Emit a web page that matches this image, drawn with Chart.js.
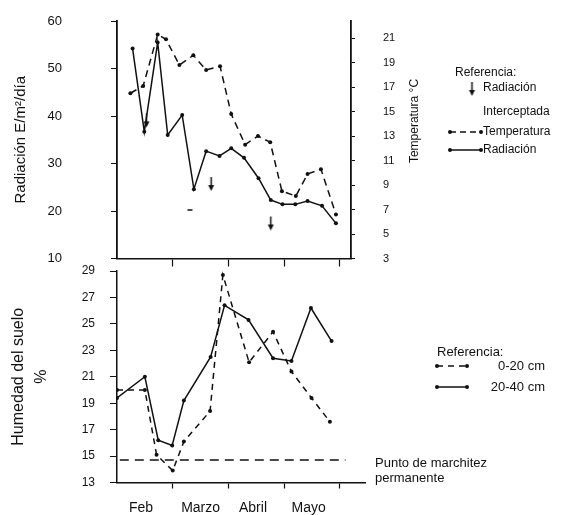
<!DOCTYPE html>
<html>
<head>
<meta charset="utf-8">
<script src="https://cdn.jsdelivr.net/npm/chart.js@4.4.1/dist/chart.umd.min.js"></script>
<style>
  body { margin: 0; background: #fff; }
  #wrap { position: relative; width: 564px; height: 515px; }
  canvas { position: absolute; left: 0; }
</style>
</head>
<body>
<div id="wrap">
  <canvas id="chartTop" width="564" height="270" style="top:0px"></canvas>
  <canvas id="chartBottom" width="564" height="253" style="top:262px"></canvas>
</div>
<script>
// x values are months counted from 1 Feb (1 = 1 Mar, 2 = 1 Apr ...)
const radDates = [0.28, 0.49, 0.73, 0.91, 1.17, 1.38, 1.60, 1.84, 2.05, 2.28, 2.54, 2.76, 2.97, 3.20, 3.42, 3.68, 3.93];
const radiacion = [54.2, 36.7, 55.5, 36.0, 40.2, 24.6, 32.6, 31.6, 33.2, 31.2, 26.9, 22.3, 21.4, 21.4, 22.1, 21.1, 17.4];
const tempDates = [0.24, 0.47, 0.73, 0.88, 1.12, 1.37, 1.60, 1.85, 2.05, 2.30, 2.53, 2.75, 2.96, 3.21, 3.42, 3.66, 3.93];
const temperatura = [16.5, 17.1, 21.3, 20.9, 18.8, 19.6, 18.4, 18.7, 14.8, 12.3, 13.0, 12.5, 8.5, 8.1, 9.9, 10.3, 6.6];
const intercDates = [0.53, 1.69, 2.76];
const interceptada = [37.6, 24.2, 15.9];
const marcaDates = [1.31];
const marca = [20.2];

const hum020Dates = [0.0, 0.50, 0.71, 1.00, 1.20, 1.67, 1.90, 2.37, 2.80, 3.13, 3.49, 3.82];
const hum020 = [20.0, 20.0, 15.1, 13.9, 16.1, 18.4, 28.7, 22.1, 24.4, 21.4, 19.4, 17.6];
const hum2040Dates = [0.0, 0.50, 0.74, 0.99, 1.20, 1.68, 1.93, 2.36, 2.80, 3.13, 3.48, 3.85];
const hum2040 = [19.4, 21.0, 16.2, 15.8, 19.2, 22.5, 26.4, 25.3, 22.4, 22.2, 26.2, 23.7];
const marchitez = 14.7;
const marchitezSpan = [0.05, 4.1];

const radTicks = [10, 20, 30, 40, 50, 60];
const tempTicks = [3, 5, 7, 9, 11, 13, 15, 17, 19, 21];
const humTicks = [13, 15, 17, 19, 21, 23, 25, 27, 29];
const monthTicks = [1, 2, 3, 4];
const monthLabels = ['Feb', 'Marzo', 'Abril', 'Mayo'];
const monthCenters = [0.43, 1.5, 2.44, 3.44];

const ink = '#111';
const fam = "'Liberation Sans', Arial, sans-serif";
Chart.defaults.font.family = fam;
Chart.defaults.color = ink;

const pts = (xs, ys) => xs.map((x, i) => ({ x: x, y: ys[i] }));
const fixTicks = (arr) => (s) => { s.ticks = arr.map(v => ({ value: v })); };
// fixed axis width; drop the label padding chart.js adds above/below vertical axes
const fixWidth = (w) => (s) => { s.width = w; s.paddingTop = 6; s.paddingBottom = 6; };

function arrowImage() {
    const c = document.createElement('canvas');
    c.width = 9;
    c.height = 30;
    const g = c.getContext('2d');
    g.strokeStyle = ink;
    g.fillStyle = ink;
    g.lineWidth = 1.5;
    g.beginPath();
    g.moveTo(4.5, 1);
    g.lineTo(4.5, 12);
    g.stroke();
    g.beginPath();
    g.moveTo(1.5, 9);
    g.lineTo(7.5, 9);
    g.lineTo(4.5, 15);
    g.closePath();
    g.fill();
    return c;
}
const arrow = arrowImage();

function legendLine(ctx, x1, x2, y, dash) {
    ctx.save();
    ctx.strokeStyle = ink;
    ctx.fillStyle = ink;
    ctx.lineWidth = 1.5;
    ctx.setLineDash(dash);
    ctx.beginPath();
    ctx.moveTo(x1, y);
    ctx.lineTo(x2, y);
    ctx.stroke();
    ctx.setLineDash([]);
    [x1, x2].forEach(x => {
        ctx.beginPath();
        ctx.arc(x, y, 2, 0, Math.PI * 2);
        ctx.fill();
    });
    ctx.restore();
}

function text(ctx, str, x, y, size, align) {
    ctx.font = size + 'px ' + fam;
    ctx.fillStyle = ink;
    ctx.textAlign = align || 'left';
    ctx.textBaseline = 'middle';
    ctx.fillText(str, x, y);
}

const topDecor = {
    id: 'topDecor',
    afterDraw(chart) {
        const ctx = chart.ctx;
        ctx.save();
        ctx.translate(415, 121);
        ctx.rotate(-Math.PI / 2);
        text(ctx, 'Temperatura °C', 0, 0, 12, 'center');
        ctx.restore();

        ctx.save();
        text(ctx, 'Referencia:', 455, 73, 12);
        ctx.drawImage(arrow, 472 - 4.5, 96 - 15);
        text(ctx, 'Radiación', 483, 88, 12);
        text(ctx, 'Interceptada', 483, 112, 12);
        legendLine(ctx, 450, 481, 132, [6, 4]);
        text(ctx, 'Temperatura', 483, 132, 12);
        legendLine(ctx, 450, 481, 150, []);
        text(ctx, 'Radiación', 483, 150, 12);
        ctx.restore();
    }
};

const bottomDecor = {
    id: 'bottomDecor',
    afterDraw(chart) {
        const ctx = chart.ctx;
        ctx.save();
        text(ctx, 'Referencia:', 437, 90, 13);
        legendLine(ctx, 437, 467, 104, [6, 5]);
        text(ctx, '0-20 cm', 545, 104, 13, 'right');
        legendLine(ctx, 437, 467, 125, []);
        text(ctx, '20-40 cm', 545, 125, 13, 'right');
        text(ctx, 'Punto de marchitez', 375, 201, 13);
        text(ctx, 'permanente', 375, 216, 13);
        ctx.restore();
    }
};

const lineStyle = {
    borderColor: ink,
    backgroundColor: ink,
    borderWidth: 1.5,
    pointRadius: 2,
    pointBackgroundColor: ink,
    pointBorderWidth: 0,
    tension: 0,
    fill: false
};

new Chart(document.getElementById('chartTop'), {
    type: 'line',
    data: {
        datasets: [
            Object.assign({ label: 'Radiación', data: pts(radDates, radiacion), yAxisID: 'y' }, lineStyle),
            Object.assign({ label: 'Temperatura', data: pts(tempDates, temperatura), yAxisID: 'y1', borderDash: [7, 5] }, lineStyle),
            { label: 'Radiación interceptada', data: pts(intercDates, interceptada), yAxisID: 'y',
              showLine: false, pointStyle: arrow, pointRadius: 8 },
            { label: 'marca', data: pts(marcaDates, marca), yAxisID: 'y', showLine: false,
              pointStyle: 'line', pointRadius: 2.5, borderColor: ink, borderWidth: 1.5 }
        ]
    },
    options: {
        responsive: false,
        devicePixelRatio: 1,
        animation: false,
        layout: { padding: { top: 21, left: 0, right: 0, bottom: 0 } },
        plugins: { legend: { display: false }, tooltip: { enabled: false } },
        scales: {
            x: {
                type: 'linear', min: 0, max: 4.2,
                afterBuildTicks: fixTicks(monthTicks),
                afterFit: s => { s.height = 11.5; },
                ticks: { display: false },
                grid: { drawOnChartArea: false, tickLength: 8, tickColor: ink, tickWidth: 1.2 },
                border: { color: ink, width: 1.5 }
            },
            y: {
                position: 'left', min: 10, max: 60,
                afterBuildTicks: fixTicks(radTicks),
                afterFit: fixWidth(117),
                ticks: { padding: 49, font: { size: 13 }, color: ink },
                grid: { drawOnChartArea: false, tickLength: 6, tickColor: ink },
                border: { color: ink, width: 1.8 },
                title: { display: true, text: 'Radiación E/m²/día', color: ink,
                         font: { size: 15 }, padding: { top: 12, bottom: 0 } }
            },
            y1: {
                position: 'right', min: 3, max: 22.4,
                afterBuildTicks: fixTicks(tempTicks),
                afterFit: fixWidth(213),
                ticks: { padding: 28, font: { size: 11 }, color: ink },
                grid: { drawOnChartArea: false, tickLength: 4, tickColor: ink },
                border: { color: ink, width: 1.8 }
            }
        }
    },
    plugins: [topDecor]
});

new Chart(document.getElementById('chartBottom'), {
    type: 'line',
    data: {
        datasets: [
            Object.assign({ label: '0-20 cm', data: pts(hum020Dates, hum020), borderDash: [6, 5] }, lineStyle),
            Object.assign({ label: '20-40 cm', data: pts(hum2040Dates, hum2040) }, lineStyle),
            { label: 'Punto de marchitez permanente',
              data: pts(marchitezSpan, [marchitez, marchitez]),
              borderColor: ink, borderWidth: 1.5, borderDash: [9, 6], pointRadius: 0 }
        ]
    },
    options: {
        responsive: false,
        devicePixelRatio: 1,
        animation: false,
        layout: { padding: { top: 9, left: 0, right: 199, bottom: 0 } },
        plugins: { legend: { display: false }, tooltip: { enabled: false } },
        scales: {
            x: {
                type: 'linear', min: 0, max: 4.45, position: 'bottom', weight: 0,
                afterBuildTicks: fixTicks(monthTicks),
                afterFit: s => { s.height = 8; },
                ticks: { display: false },
                grid: { drawOnChartArea: false, tickLength: 6, tickColor: ink, tickWidth: 1.2 },
                border: { color: ink, width: 1.5 }
            },
            xm: {
                type: 'linear', min: 0, max: 4.45, position: 'bottom', weight: 1,
                afterBuildTicks: fixTicks(monthCenters),
                afterFit: s => { s.height = 24.5; },
                ticks: { padding: 9, font: { size: 14 }, color: ink, autoSkip: false, maxRotation: 0,
                         callback: (v, i) => monthLabels[i] },
                grid: { display: false, drawTicks: false },
                border: { display: false }
            },
            y: {
                position: 'left', min: 13, max: 29,
                afterBuildTicks: fixTicks(humTicks),
                afterFit: fixWidth(117),
                ticks: { padding: 15, font: { size: 12 }, color: ink },
                grid: { drawOnChartArea: false, tickLength: 7, tickColor: ink },
                border: { color: ink, width: 1.5 },
                title: { display: true, text: ['Humedad del suelo', '%'], color: ink,
                         font: { size: 16, lineHeight: 1.44 }, padding: { top: 7.5, bottom: 0 } }
            }
        }
    },
    plugins: [bottomDecor]
});
</script>
</body>
</html>
